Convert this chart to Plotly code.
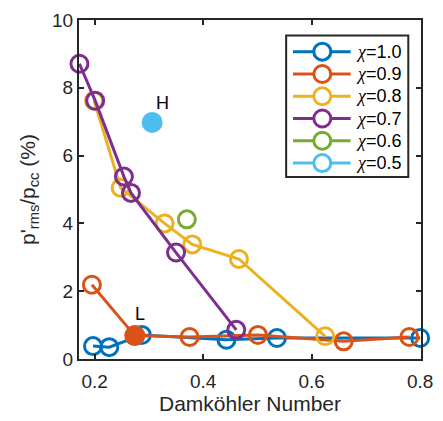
import plotly.graph_objects as go

# ---- data ----
x_10 = [0.197, 0.227, 0.287, 0.443, 0.536, 0.800]
y_10 = [0.38, 0.35, 0.71, 0.57, 0.62, 0.62]

x_09 = [0.195, 0.274, 0.375, 0.501, 0.659, 0.780]
y_09 = [2.19, 0.69, 0.65, 0.71, 0.52, 0.65]

x_08 = [0.199, 0.248, 0.329, 0.380, 0.466, 0.625]
y_08 = [7.62, 5.05, 4.00, 3.38, 2.95, 0.67]

x_07 = [0.172, 0.201, 0.254, 0.267, 0.350, 0.461]
y_07 = [8.71, 7.62, 5.38, 4.90, 3.14, 0.86]

x_06 = [0.370]
y_06 = [4.12]

x_05 = [0.306]
y_05 = [6.98]

# highlighted (filled) points
L_x = [0.274]
L_y = [0.69]

series_names = ["χ=1.0", "χ=0.9", "χ=0.8", "χ=0.7", "χ=0.6", "χ=0.5"]
colors = ["#0072BD", "#D95319", "#EDB120", "#7E2F8E", "#77AC30", "#4DBEEE"]

FONT = "Liberation Sans, Arial, sans-serif"
AX = "#262626"

fig = go.Figure()

open_series = [(x_10, y_10), (x_09, y_09), (x_08, y_08), (x_07, y_07), (x_06, y_06)]
for (xs, ys), c, n in zip(open_series, colors, series_names):
    fig.add_trace(go.Scatter(
        x=xs, y=ys, mode="lines+markers", name=n,
        line=dict(color=c, width=3),
        marker=dict(symbol="circle-open", size=17, color=c, line=dict(width=3, color=c)),
        cliponaxis=False, showlegend=False))

# filled L point (χ=0.9) and H point (χ=0.5)
fig.add_trace(go.Scatter(x=L_x, y=L_y, mode="markers", marker=dict(size=21, color=colors[1]),
                         cliponaxis=False, showlegend=False))
fig.add_trace(go.Scatter(x=x_05, y=y_05, mode="markers", marker=dict(size=21, color=colors[5]),
                         cliponaxis=False, showlegend=False))

fig.add_annotation(x=0.325, y=7.54, text="H", showarrow=False,
                   font=dict(size=18, color="#000000", family=FONT))
fig.add_annotation(x=0.284, y=1.33, text="L", showarrow=False,
                   font=dict(size=18, color="#000000", family=FONT))

# ---- custom legend (paper coordinates) ----
PW, PH, L0, T0 = 350.0, 350.0, 79.0, 10.0
def px(xp):
    return (xp - L0) / PW
def py(yp):
    return (T0 + PH - yp) / PH

fig.add_shape(type="rect", xref="paper", yref="paper",
              x0=px(291), x1=px(416), y0=py(172), y1=py(26),
              line=dict(color=AX, width=2), fillcolor="white", layer="above")
for i, (n, c) in enumerate(zip(series_names, colors)):
    yy = 42.7 + 23 * i
    fig.add_shape(type="line", xref="paper", yref="paper",
                  x0=px(298), x1=px(357), y0=py(yy), y1=py(yy),
                  line=dict(color=c, width=3), layer="above")
    fig.add_shape(type="circle", xref="paper", yref="paper",
                  xsizemode="pixel", ysizemode="pixel",
                  xanchor=px(328), yanchor=py(yy),
                  x0=-8.5, x1=8.5, y0=-8.5, y1=8.5,
                  line=dict(color=c, width=3), fillcolor="white", layer="above")
    fig.add_annotation(xref="paper", yref="paper", x=px(360), y=py(yy),
                       xanchor="left", yanchor="middle", showarrow=False,
                       text="<span style='font-family:Liberation Serif'><i>χ</i></span>" + n[1:],
                       font=dict(size=18, color="#000000", family=FONT))

fig.update_layout(
    width=443, height=421,
    margin=dict(l=79, r=14, t=10, b=61),
    paper_bgcolor="white", plot_bgcolor="white",
    font=dict(family=FONT, color=AX, size=16),
    showlegend=False,
)
fig.update_xaxes(
    range=[0.1712, 0.8015], tickvals=[0.2, 0.4, 0.6, 0.8], ticktext=["0.2", "0.4", "0.6", "0.8"],
    ticks="inside", ticklen=5, tickwidth=1.5, tickcolor=AX,
    showline=True, linecolor=AX, linewidth=2, mirror="allticks",
    showgrid=False, zeroline=False, ticklabelstandoff=4,
    tickfont=dict(size=19, color=AX, family=FONT),
    title=dict(text="Damköhler Number", font=dict(size=21, color=AX, family=FONT), standoff=5),
)
fig.update_yaxes(
    range=[0, 10], tickvals=[0, 2, 4, 6, 8, 10],
    ticks="inside", ticklen=5, tickwidth=1.5, tickcolor=AX,
    showline=True, linecolor=AX, linewidth=2, mirror="allticks",
    showgrid=False, zeroline=False,
    tickfont=dict(size=19, color=AX, family=FONT),
    title=dict(text="p'<sub>rms</sub>/p<sub>cc</sub> (%)", font=dict(size=21, color=AX, family=FONT), standoff=11),
)

fig.write_html("out.html", config={"displayModeBar": False},
               post_script="document.body.style.margin='0';document.body.style.padding='0';")
